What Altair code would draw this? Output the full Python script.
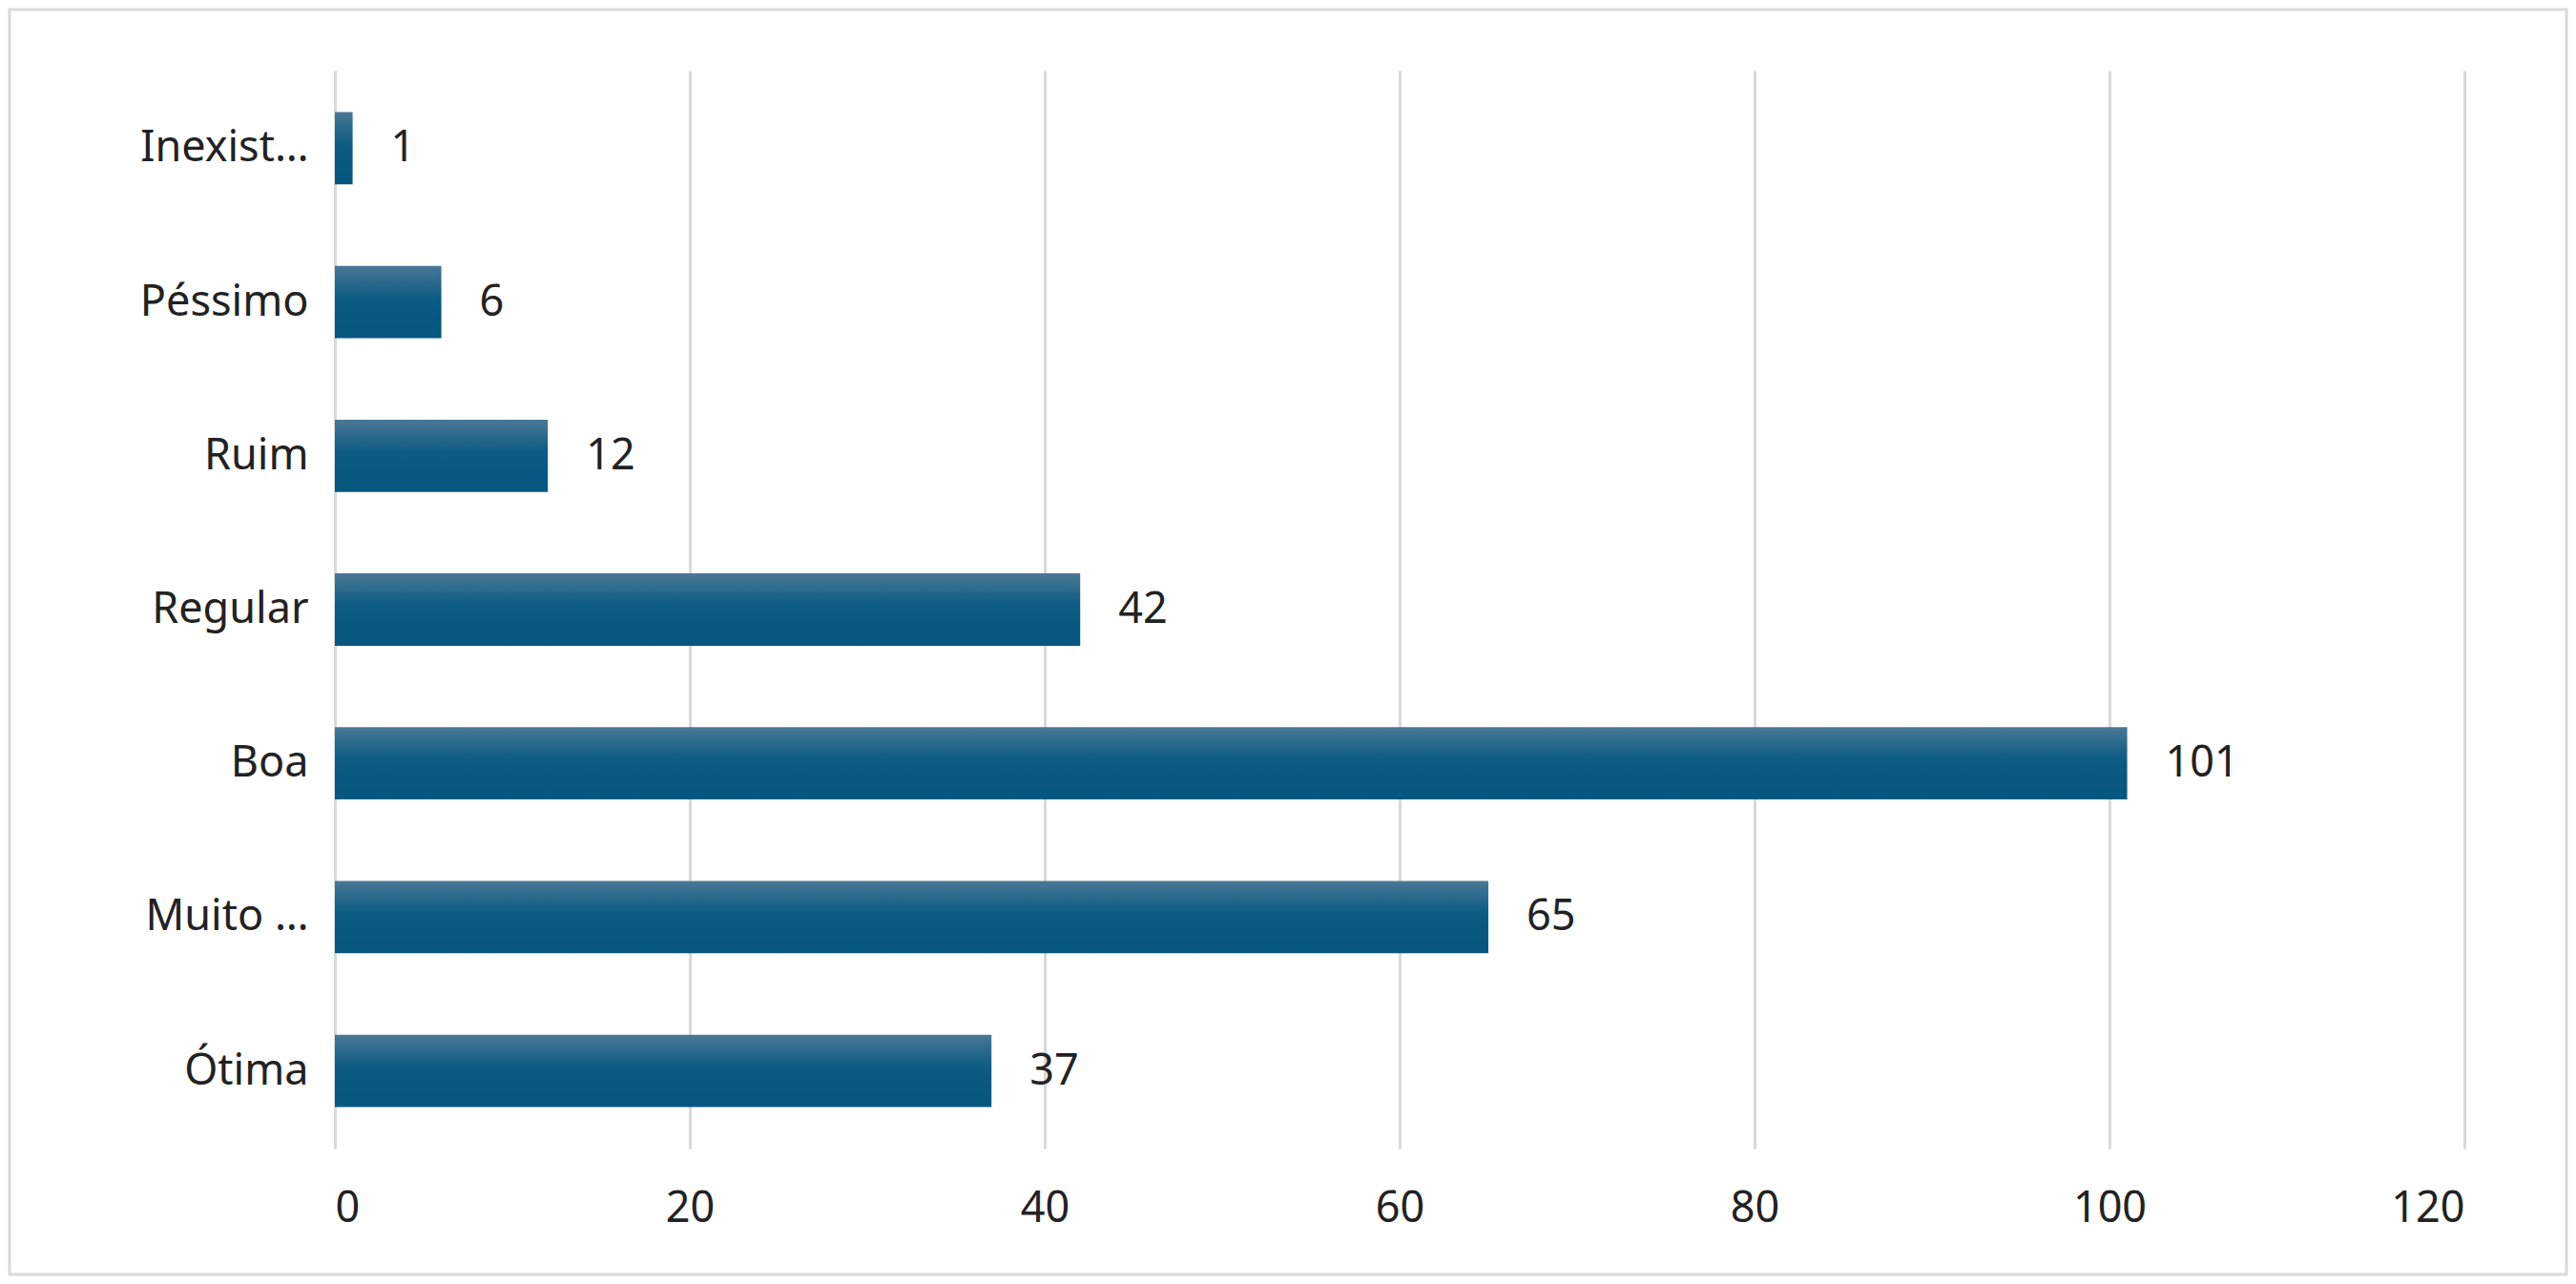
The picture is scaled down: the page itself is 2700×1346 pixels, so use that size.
import pandas as pd
import altair as alt

categories = ["Inexistente", "Péssimo", "Ruim", "Regular", "Boa", "Muito Boa", "Ótima"]
values = [1, 6, 12, 42, 101, 65, 37]

df = pd.DataFrame({"Categoria": categories, "Total": values})

W, H = 2232, 1130
PAD = {"left": 343, "top": 66, "right": 109, "bottom": 134}
FONT = "Noto Sans"

base = alt.Chart(df).encode(
    y=alt.Y("Categoria:N", sort=categories, title=None,
            scale=alt.Scale(paddingInner=0.53, paddingOuter=0.27),
            axis=alt.Axis(labelFontSize=45, labelFont=FONT, labelColor="#222222",
                          labelPadding=28, ticks=False, domainColor="#d9d9d9",
                          domainWidth=3)),
    x=alt.X("Total:Q", title=None,
            scale=alt.Scale(domain=[0, 120]),
            axis=alt.Axis(values=[0, 20, 40, 60, 80, 100, 120], labelFontSize=45,
                          labelFont=FONT, labelColor="#222222", labelPadding=40,
                          ticks=False, domain=False, gridColor="#d9d9d9",
                          gridWidth=3)),
)

bars = base.mark_bar(
    color=alt.Gradient(
        gradient="linear", x1=0, y1=0, x2=0, y2=1,
        stops=[alt.GradientStop(color="#4a7896", offset=0),
               alt.GradientStop(color="#0b5b82", offset=0.45),
               alt.GradientStop(color="#055680", offset=1)]
    )
)

labels = base.mark_text(align="left", dx=40, fontSize=45, font=FONT, color="#222222").encode(
    text="Total:Q"
)

border = alt.Chart(df.head(1)).mark_rect(
    fill=None, stroke="#d9d9d9", strokeWidth=3, clip=False
).encode(
    x=alt.value(-341), x2=alt.value(W + 107),
    y=alt.value(-64), y2=alt.value(H + 132),
)

chart = alt.layer(bars, labels, border).properties(
    width=W, height=H, padding=PAD, autosize=alt.AutoSizeParams(type="none"),
    background="white"
).configure_view(strokeWidth=0)

chart.save("out.html", embed_options={"renderer": "svg", "actions": False})
